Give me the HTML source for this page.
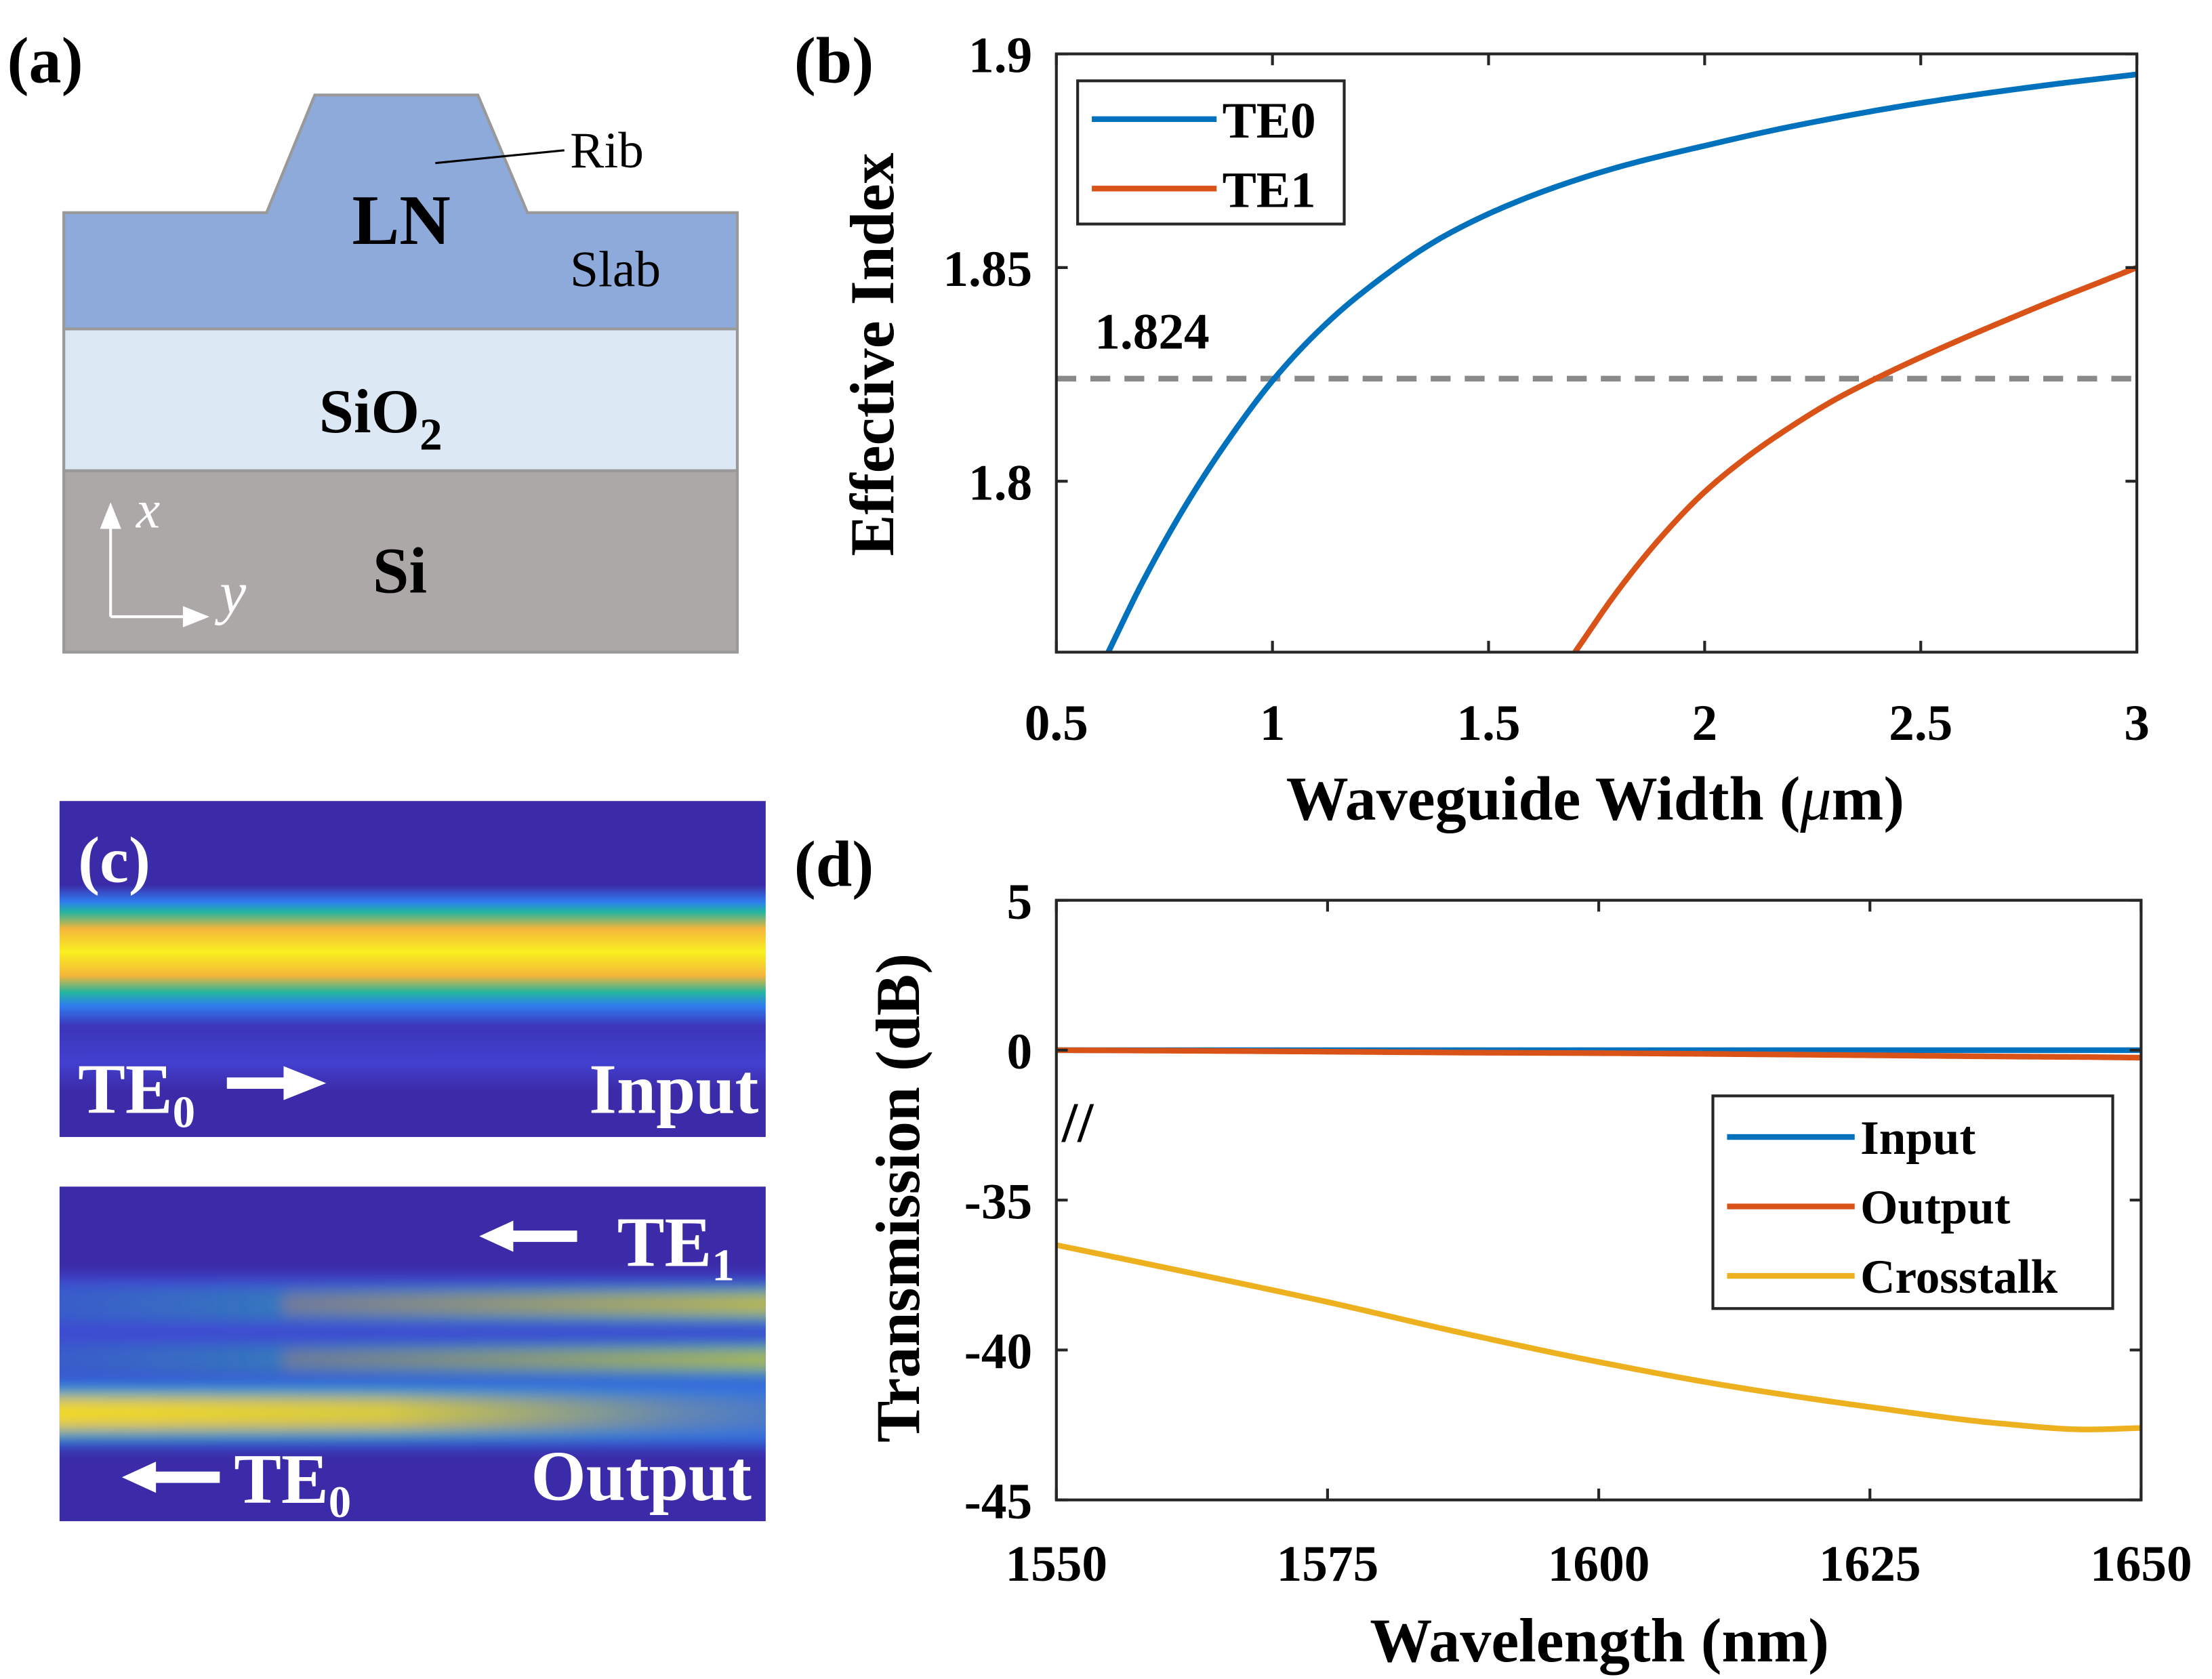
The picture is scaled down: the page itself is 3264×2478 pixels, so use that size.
<!DOCTYPE html>
<html><head><meta charset="utf-8"><style>
html,body{margin:0;padding:0;background:#fff;}
svg{display:block;font-family:"Liberation Serif",serif;font-weight:bold;}
</style></head><body>
<svg id="fig" width="3264" height="2478" viewBox="0 0 1560 1184.3" xmlns="http://www.w3.org/2000/svg">
<defs>
<linearGradient id="band1" x1="0" y1="0" x2="0" y2="1">
<stop offset="0" stop-color="#3c2ba8"/><stop offset="0.25" stop-color="#3c2ba8"/>
<stop offset="0.3" stop-color="#2f7cf0"/><stop offset="0.33" stop-color="#22b5a0"/>
<stop offset="0.38" stop-color="#f5b53a"/><stop offset="0.45" stop-color="#f8f020"/>
<stop offset="0.52" stop-color="#f5b53a"/><stop offset="0.57" stop-color="#22b5a0"/>
<stop offset="0.61" stop-color="#2f7cf0"/><stop offset="0.67" stop-color="#3c35b8"/>
<stop offset="0.78" stop-color="#4240d0"/><stop offset="0.86" stop-color="#3c2ba8"/>
<stop offset="1" stop-color="#3c2ba8"/></linearGradient>
<linearGradient id="fadeR" x1="0" y1="0" x2="1" y2="0">
<stop offset="0" stop-color="#fff" stop-opacity="1"/><stop offset="0.45" stop-color="#fff" stop-opacity="0.85"/><stop offset="0.8" stop-color="#fff" stop-opacity="0.25"/><stop offset="1" stop-color="#fff" stop-opacity="0.05"/></linearGradient>
<linearGradient id="fadeL" x1="0" y1="0" x2="1" y2="0">
<stop offset="0" stop-color="#fff" stop-opacity="0.1"/><stop offset="0.5" stop-color="#fff" stop-opacity="0.55"/><stop offset="1" stop-color="#fff" stop-opacity="1"/></linearGradient>
<mask id="mR"><rect x="0" y="837" width="600" height="236" fill="url(#fadeR)"/></mask>
<mask id="mL"><rect x="0" y="837" width="600" height="236" fill="url(#fadeL)"/></mask>
<clipPath id="cBot"><rect x="42" y="837" width="498" height="236"/></clipPath>
<filter id="bl" x="-0.2" y="-0.5" width="1.4" height="2"><feGaussianBlur stdDeviation="5"/></filter>
</defs>

<!-- Panel a -->
<g>
<text x="5" y="58" font-size="46">(a)</text>
<rect x="45" y="332" width="475" height="128" fill="#aca8a8" stroke="#999" stroke-width="2"/>
<rect x="45" y="232" width="475" height="100" fill="#dde8f5" stroke="#999" stroke-width="2"/>
<polygon points="45,232 45,150 188,150 222,67 337,67 372,150 520,150 520,232" fill="#8eaadb" stroke="#999" stroke-width="2"/>
<line x1="307" y1="115" x2="398" y2="106" stroke="#000" stroke-width="1.5"/>
<text x="402" y="118" font-size="36" font-weight="normal">Rib</text>
<text x="283" y="172" font-size="50" text-anchor="middle">LN</text>
<text x="402" y="202" font-size="36" font-weight="normal">Slab</text>
<text x="225" y="305" font-size="44">SiO<tspan font-size="32" dy="12">2</tspan></text>
<text x="282" y="418" font-size="46" text-anchor="middle">Si</text>
<g stroke="#fff" stroke-width="2" fill="#fff">
<line x1="78" y1="435" x2="78" y2="365"/><polygon points="78,357 72,372 84,372"/>
<line x1="78" y1="435" x2="135" y2="435"/><polygon points="145,435 130,429 130,441"/>
</g>
<text x="96" y="372" font-size="38" font-style="italic" font-weight="normal" fill="#fff">x</text>
<text x="155" y="432" font-size="42" font-style="italic" font-weight="normal" fill="#fff">y</text>
</g>

<!-- Panel c -->
<g>
<rect x="42" y="565" width="498" height="237" fill="url(#band1)"/>
<text x="55" y="622" font-size="46" fill="#fff">(c)</text>
<text x="55" y="785" font-size="50" fill="#fff">TE<tspan font-size="32" dy="10">0</tspan></text>
<g fill="#fff"><rect x="160" y="760" width="45" height="8"/><polygon points="200,752 230,764 200,776"/></g>
<text x="535" y="785" font-size="50" fill="#fff" text-anchor="end">Input</text>

<rect x="42" y="837" width="498" height="236" fill="#3c2ba8"/>
<g clip-path="url(#cBot)">
<g filter="url(#bl)">
<rect x="0" y="900" width="600" height="80" fill="#3d5ee8" opacity="0.65"/>
<rect x="0" y="975" width="600" height="45" fill="#2f7cf0" opacity="0.8"/>
<g mask="url(#mL)">
<rect x="0" y="908" width="600" height="24" fill="#28b8a0"/>
<rect x="200" y="913" width="400" height="14" fill="#c8c040"/>
<rect x="0" y="948" width="600" height="22" fill="#28b8a0"/>
<rect x="200" y="953" width="400" height="12" fill="#b8c040"/>
</g>
<g mask="url(#mR)">
<rect x="0" y="980" width="600" height="34" fill="#28b8a0"/>
<rect x="0" y="986" width="600" height="22" fill="#f5b83a"/>
<rect x="0" y="990" width="600" height="13" fill="#f5e020"/>
</g>
</g>
</g>
<text x="518" y="893" font-size="50" fill="#fff" text-anchor="end">TE<tspan font-size="32" dy="10">1</tspan></text>
<g fill="#fff"><rect x="352" y="868" width="55" height="8"/><polygon points="338,872 362,861 362,883"/></g>
<text x="165" y="1060" font-size="50" fill="#fff">TE<tspan font-size="32" dy="10">0</tspan></text>
<g fill="#fff"><rect x="100" y="1038" width="55" height="8"/><polygon points="86,1042 110,1031 110,1053"/></g>
<text x="530" y="1058" font-size="50" fill="#fff" text-anchor="end">Output</text>
</g>

<g id="pb"></g>
<g id="pd"></g>
</svg>
<script>
const te0X=[0.62,0.7,0.8,0.9,1.0,1.1,1.2,1.4,1.6,1.8,2.0,2.2,2.5,2.8,3.0];
const te0Y=[1.76,1.7765,1.7945,1.81,1.8235,1.8345,1.8435,1.8575,1.8668,1.8735,1.8785,1.883,1.8885,1.8928,1.8952];
const te1X=[1.7,1.8,1.9,2.0,2.1,2.2,2.3,2.42,2.5,2.6,2.7,2.8,2.9,3.0];
const te1Y=[1.76,1.7745,1.787,1.7975,1.8058,1.8128,1.819,1.8252,1.829,1.8335,1.8378,1.842,1.846,1.85];
const bXTicks=[0.5,1,1.5,2,2.5,3];
const bXTickLabels=["0.5","1","1.5","2","2.5","3"];
const bYTicks=[1.8,1.85,1.9];
const bYTickLabels=["1.8","1.85","1.9"];
const cutoffIndex=1.824;
const wl=[1550,1562,1575,1587,1600,1612,1625,1637,1645,1650];
const inputDb=[0,0,0,0,0,0,0,0,0,0];
const outputDb=[0,-0.02,-0.05,-0.08,-0.1,-0.13,-0.17,-0.21,-0.23,-0.25];
const crosstalkDb=[-36.5,-37.4,-38.4,-39.4,-40.4,-41.2,-41.9,-42.45,-42.65,-42.6];
const dXTicks=[1550,1575,1600,1625,1650];
const dXTickLabels=["1550","1575","1600","1625","1650"];
const dYTicks=[5,0,-35,-40,-45];
const dYTickLabels=["5","0","-35","-40","-45"];

const NS="http://www.w3.org/2000/svg";
function mk(p,tag,at,txt){const e=document.createElementNS(NS,tag);for(const k in at)e.setAttribute(k,at[k]);if(txt!==undefined)e.textContent=txt;p.appendChild(e);return e;}
function smooth(xs,ys,fx,fy){
 const n=xs.length,d=[],m=[];
 for(let i=0;i<n-1;i++)d.push((ys[i+1]-ys[i])/(xs[i+1]-xs[i]));
 m[0]=d[0];m[n-1]=d[n-2];
 for(let i=1;i<n-1;i++){
  if(d[i-1]*d[i]<=0)m[i]=0;
  else{const h0=xs[i]-xs[i-1],h1=xs[i+1]-xs[i];const w1=2*h1+h0,w2=h1+2*h0;m[i]=(w1+w2)/(w1/d[i-1]+w2/d[i]);}
 }
 let s="";
 for(let i=0;i<n-1;i++){
  const h=xs[i+1]-xs[i];
  for(let k=0;k<=20;k++){
   if(i>0&&k===0)continue;
   const t=k/20,t2=t*t,t3=t2*t;
   const y=(2*t3-3*t2+1)*ys[i]+(t3-2*t2+t)*h*m[i]+(-2*t3+3*t2)*ys[i+1]+(t3-t2)*h*m[i+1];
   const x=xs[i]+t*h;
   s+=(s?" L":"M")+fx(x).toFixed(2)+","+fy(y).toFixed(2);
  }
 }
 return s;
}

// Panel b
const pb=document.getElementById('pb');
const bL=745,bR=1507,bT=38,bB=460;
const bx=v=>bL+(v-0.5)/(3-0.5)*(bR-bL);
const by=v=>bB-(v-1.76)/(1.9-1.76)*(bB-bT);
let t=mk(pb,'text',{x:560,y:58,'font-size':46},'(b)');


let dl=mk(pb,'line',{x1:bL,x2:bR,y1:by(cutoffIndex),y2:by(cutoffIndex),stroke:'#8a8a8a','stroke-width':4,'stroke-dasharray':'14,10'});


t=mk(pb,'text',{x:772,y:246,'font-size':36},String(cutoffIndex));


let c=mk(pb,'path',{d:smooth(te0X,te0Y,bx,by),fill:'none',stroke:'#0072bd','stroke-width':4});


c=mk(pb,'path',{d:smooth(te1X,te1Y,bx,by),fill:'none',stroke:'#d95319','stroke-width':4});


let fr=mk(pb,'rect',{x:bL,y:bT,width:bR-bL,height:bB-bT,fill:'none',stroke:'#262626','stroke-width':2});


bXTicks.forEach((v,i)=>{
 mk(pb,'line',{x1:bx(v),x2:bx(v),y1:bB,y2:bB-8,stroke:'#262626','stroke-width':2});
 mk(pb,'line',{x1:bx(v),x2:bx(v),y1:bT,y2:bT+8,stroke:'#262626','stroke-width':2});
 const e=mk(pb,'text',{x:bx(v),y:522,'font-size':36,'text-anchor':'middle'},bXTickLabels[i]);
 
 
});
bYTicks.forEach((v,i)=>{
 mk(pb,'line',{x1:bL,x2:bL+8,y1:by(v),y2:by(v),stroke:'#262626','stroke-width':2});
 mk(pb,'line',{x1:bR,x2:bR-8,y1:by(v),y2:by(v),stroke:'#262626','stroke-width':2});
 const e=mk(pb,'text',{x:728,y:by(v)+13,'font-size':36,'text-anchor':'end'},bYTickLabels[i]);
 
 
});
t=mk(pb,'text',{x:1125,y:578,'font-size':44,'text-anchor':'middle'},'Waveguide Width (');


mk(t,'tspan',{'font-style':'italic','font-weight':'normal'},'μ');
mk(t,'tspan',{},'m)');
t=mk(pb,'text',{x:0,y:0,'font-size':44,'text-anchor':'middle',transform:'translate(630,250) rotate(-90)'},'Effective Index');


let lg=mk(pb,'g',{});


mk(lg,'rect',{x:760,y:57,width:188,height:101,fill:'#fff',stroke:'#262626','stroke-width':2});
[['TE0','#0072bd',84],['TE1','#d95319',133]].forEach(([n,col,y])=>{
 const g=mk(lg,'g',{});
 
 
 mk(g,'line',{x1:770,x2:858,y1:y,y2:y,stroke:col,'stroke-width':4});
 mk(g,'text',{x:862,y:y+13,'font-size':36},n);
});

// Panel d
const pd=document.getElementById('pd');
const dL=745,dR=1510,dT=635,dB=1058;
const step=(dB-dT)/4;
const dx=v=>dL+(v-1550)/100*(dR-dL);
const dpos=v=>v>-17.5?(5-v)/5:2+(-35-v)/5;
const dy=v=>dT+dpos(v)*step;
t=mk(pd,'text',{x:560,y:625,'font-size':46},'(d)');


[[inputDb,'#0072bd','input-line'],[outputDb,'#d95319','output-line'],[crosstalkDb,'#edb120','crosstalk-line']].forEach(([arr,col,n])=>{
 const p=mk(pd,'path',{d:smooth(wl,arr,dx,dy),fill:'none',stroke:col,'stroke-width':4});
 
 
});
fr=mk(pd,'rect',{x:dL,y:dT,width:dR-dL,height:dB-dT,fill:'none',stroke:'#262626','stroke-width':2});


dXTicks.forEach((v,i)=>{
 mk(pd,'line',{x1:dx(v),x2:dx(v),y1:dB,y2:dB-8,stroke:'#262626','stroke-width':2});
 mk(pd,'line',{x1:dx(v),x2:dx(v),y1:dT,y2:dT+8,stroke:'#262626','stroke-width':2});
 const e=mk(pd,'text',{x:dx(v),y:1115,'font-size':36,'text-anchor':'middle'},dXTickLabels[i]);
 
 
});
dYTicks.forEach((v,i)=>{
 mk(pd,'line',{x1:dL,x2:dL+8,y1:dy(v),y2:dy(v),stroke:'#262626','stroke-width':2});
 mk(pd,'line',{x1:dR,x2:dR-8,y1:dy(v),y2:dy(v),stroke:'#262626','stroke-width':2});
 const e=mk(pd,'text',{x:728,y:dy(v)+13,'font-size':36,'text-anchor':'end'},dYTickLabels[i]);
 
 
});
t=mk(pd,'text',{x:760,y:805,'font-size':40,'text-anchor':'middle'},'//');


t=mk(pd,'text',{x:1128,y:1172,'font-size':44,'text-anchor':'middle'},'Wavelength (nm)');


t=mk(pd,'text',{x:0,y:0,'font-size':44,'text-anchor':'middle',transform:'translate(648,845) rotate(-90)'},'Transmission (dB)');


lg=mk(pd,'g',{});


mk(lg,'rect',{x:1208,y:773,width:282,height:150,fill:'#fff',stroke:'#262626','stroke-width':2});
[['Input','#0072bd',802],['Output','#d95319',851],['Crosstalk','#edb120',900]].forEach(([n,col,y])=>{
 const g=mk(lg,'g',{});
 
 
 mk(g,'line',{x1:1218,x2:1308,y1:y,y2:y,stroke:col,'stroke-width':4});
 mk(g,'text',{x:1312,y:y+12,'font-size':34},n);
});
</script>
</body></html>
